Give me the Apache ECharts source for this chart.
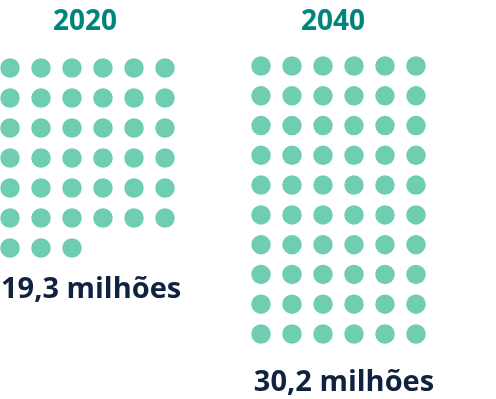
<!DOCTYPE html>
<html>
<head>
<meta charset="utf-8">
<script src="https://cdn.jsdelivr.net/npm/echarts@6/dist/echarts.min.js"></script>
<style>
  html, body { margin: 0; padding: 0; background: #fff; }
  #chart { width: 496px; height: 399px; }
</style>
</head>
<body>
<div id="chart"></div>
<script>
// pictogram: one dot = 0,5 milhão
const years = ['2020', '2040'];
const populacao = [19.3, 30.2];          // milhões
const valueLabels = ['19,3 milhões', '30,2 milhões'];
const perDot = 0.5;
const columns = 6;

const dotColor = '#6fcdb2';
const titleColor = '#00857a';
const labelColor = '#0f2340';
const font = '"Open Sans", "Noto Sans", sans-serif';

// grid placement per year
const gridBoxes = [
    { left: 10, top: 68, width: 155, height: 270 },
    { left: 261, top: 66, width: 155, height: 268 }
];

function dotsFor(value) {
    const n = Math.round(value / perDot);
    const pts = [];
    for (let i = 0; i < n; i++) {
        pts.push([i % columns, Math.floor(i / columns)]);
    }
    return pts;
}

const grids = gridBoxes.map(g => ({ ...g, containLabel: false }));
const xAxes = years.map((_, i) => ({
    type: 'value', gridIndex: i, min: 0, max: columns - 1, show: false
}));
const yAxes = years.map((_, i) => ({
    type: 'value', gridIndex: i, min: 0, max: 9, inverse: true, show: false
}));
const series = years.map((y, i) => ({
    type: 'scatter',
    name: y,
    xAxisIndex: i,
    yAxisIndex: i,
    symbol: 'circle',
    symbolSize: 19.5,
    itemStyle: { color: dotColor, opacity: 1 },
    silent: true,
    data: dotsFor(populacao[i])
}));

const chart = echarts.init(document.getElementById('chart'), null, { renderer: 'canvas' });
chart.setOption({
    animation: false,
    backgroundColor: '#fff',
    grid: grids,
    xAxis: xAxes,
    yAxis: yAxes,
    series: series,
    graphic: [
        { type: 'text', style: { text: years[0], x: 85, y: 22, align: 'center', verticalAlign: 'middle',
            font: 'bold 28px ' + font, fill: titleColor } },
        { type: 'text', style: { text: years[1], x: 333, y: 22, align: 'center', verticalAlign: 'middle',
            font: 'bold 28px ' + font, fill: titleColor } },
        { type: 'text', style: { text: valueLabels[0], x: 1, y: 290, align: 'left', verticalAlign: 'middle',
            font: 'bold 29px ' + font, fill: labelColor } },
        { type: 'text', style: { text: valueLabels[1], x: 344, y: 383, align: 'center', verticalAlign: 'middle',
            font: 'bold 29px ' + font, fill: labelColor } }
    ]
});
</script>
</body>
</html>
